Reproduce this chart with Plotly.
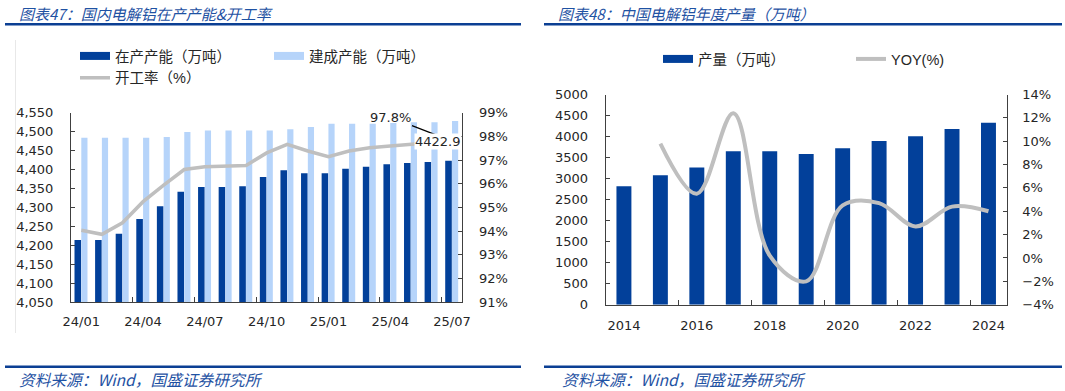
import plotly.graph_objects as go

# ---------------- data ----------------
months = ["24/01", "24/02", "24/03", "24/04", "24/05", "24/06", "24/07", "24/08", "24/09",
          "24/10", "24/11", "24/12", "25/01", "25/02", "25/03", "25/04", "25/05", "25/06", "25/07"]
running_capacity = [4214, 4214, 4230, 4269, 4303, 4341, 4354, 4354, 4356, 4380,
                    4398, 4390, 4390, 4402, 4407, 4414, 4417, 4420, 4422.9]
built_capacity = [4484, 4484, 4484, 4484, 4486, 4499, 4503, 4503, 4503, 4503,
                  4506, 4512, 4521, 4521, 4521, 4523, 4525, 4525, 4528]
utilization = [94.03, 93.86, 94.35, 95.24, 95.94, 96.60, 96.72, 96.75, 96.77, 97.30,
               97.66, 97.38, 97.14, 97.38, 97.52, 97.59, 97.66, 97.75, 97.8]

years = [2014, 2015, 2016, 2017, 2018, 2019, 2020, 2021, 2022, 2023, 2024]
output = [2820, 3081, 3262, 3649, 3649, 3586, 3720, 3894, 4005, 4179, 4329]
yoy_years = [2015, 2016, 2017, 2018, 2019, 2020, 2021, 2022, 2023, 2024]
yoy = [9.8, 5.5, 12.4, 0.2, -2.0, 4.5, 4.7, 2.7, 4.4, 4.0]

title_left = "图表47：国内电解铝在产产能&开工率"
title_right = "图表48：中国电解铝年度产量（万吨）"
source_text = "资料来源：Wind，国盛证券研究所"

# ---------------- style ----------------
W, H = 1065, 391
DARK = "#02409A"
LIGHT = "#B6D4FA"
GRAY = "#BFBFBF"
AXIS = "#404040"
TXT = "#262626"
BLUE_TXT = "#1F52A3"
RULE = "#0B3F93"
TICKFONT = dict(family="DejaVu Sans, Verdana", size=13, color=TXT)
LEGFONT = dict(family="Liberation Sans, Noto Sans CJK SC", size=14.5, color=TXT)
CJK = "Noto Sans CJK SC"


def px(xp):
    return xp / W


def py(yp):
    return 1 - yp / H


idx = list(range(len(months)))

fig = go.Figure()

# ---------- left chart ----------
fig.add_trace(go.Bar(x=idx, y=running_capacity, name="在产产能（万吨）", marker_color=DARK,
                     marker_line_width=0, width=0.32, offset=-0.33, xaxis="x", yaxis="y",
                     showlegend=False))
fig.add_trace(go.Bar(x=idx, y=built_capacity, name="建成产能（万吨）", marker_color=LIGHT,
                     marker_line_width=0, width=0.30, offset=0.0, xaxis="x", yaxis="y",
                     showlegend=False))
fig.add_trace(go.Scatter(x=idx, y=utilization, name="开工率（%）", mode="lines",
                         line=dict(color=GRAY, width=3.5), xaxis="x", yaxis="y2",
                         legend="legend", legendgroup="g1", legendrank=2))
# legend proxies (wide flat swatches like the original)
fig.add_trace(go.Scatter(x=[None], y=[None], name="在产产能（万吨）", mode="lines",
                         line=dict(color=DARK, width=8), xaxis="x", yaxis="y",
                         legend="legend", legendgroup="g1", legendrank=1))
fig.add_trace(go.Scatter(x=[None], y=[None], name="建成产能（万吨）", mode="lines",
                         line=dict(color=LIGHT, width=8), xaxis="x", yaxis="y",
                         legend="legend", legendgroup="g2", legendrank=3))

# ---------- right chart ----------
fig.add_trace(go.Bar(x=years, y=output, name="产量（万吨）", marker_color=DARK,
                     marker_line_width=0, width=0.41, xaxis="x2", yaxis="y3",
                     showlegend=False))
fig.add_trace(go.Scatter(x=[None], y=[None], name="产量（万吨）", mode="lines",
                         line=dict(color=DARK, width=8), xaxis="x2", yaxis="y3",
                         legend="legend2", legendrank=1))
fig.add_trace(go.Scatter(x=yoy_years, y=yoy, name="YOY(%)", mode="lines",
                         line=dict(color=GRAY, width=4, shape="spline", smoothing=1.0),
                         xaxis="x2", yaxis="y4", legend="legend2", legendrank=2))

axis_common = dict(showgrid=False, zeroline=False, showline=True, linecolor=AXIS,
                   linewidth=1, tickfont=TICKFONT, tickcolor=AXIS, automargin=False)

fig.update_layout(
    width=W, height=H,
    margin=dict(l=0, r=0, t=0, b=0, pad=0, autoexpand=False),
    paper_bgcolor="white", plot_bgcolor="white",
    barmode="overlay",
    hovermode=False,
    xaxis=dict(domain=[px(71), px(462.3)], range=[-0.5, len(months) - 0.5], anchor="y",
               tickmode="array", tickvals=idx[::3], ticktext=months[::3], ticks="",
               ticklabelstandoff=7,
               minor=dict(tickmode="array", tickvals=[i - 0.5 for i in idx[3::3]],
                          ticks="inside", ticklen=5, tickcolor=AXIS),
               **axis_common),
    yaxis=dict(domain=[py(302), py(112.7)], range=[4050, 4550], tick0=4050, dtick=50,
               tickformat=",", ticks="inside", ticklen=4, anchor="x",
               ticklabelstandoff=14, **axis_common),
    yaxis2=dict(overlaying="y", side="right", range=[91, 99], tick0=91, dtick=1,
                ticksuffix="%", ticks="inside", ticklen=4, anchor="x",
                ticklabelstandoff=13, **axis_common),
    xaxis2=dict(domain=[px(605.7), px(1006.7)], range=[years[0] - 0.5, years[-1] + 0.5],
                anchor="y3", tickmode="array", tickvals=years[::2], ticks="",
                ticklabelstandoff=9,
                minor=dict(tickmode="array", tickvals=[y - 0.5 for y in years[2::2]],
                           ticks="inside", ticklen=5, tickcolor=AXIS),
                **axis_common),
    yaxis3=dict(domain=[py(304.7), py(94.5)], range=[0, 5000], tick0=0, dtick=500,
                ticks="inside", ticklen=4, anchor="x2", ticklabelstandoff=14,
                **axis_common),
    yaxis4=dict(overlaying="y3", side="right", range=[-4, 14], tick0=-4, dtick=2,
                ticksuffix="%", ticks="inside", ticklen=4, anchor="x2",
                ticklabelstandoff=12, **axis_common),
    legend=dict(x=px(75), y=py(40), xanchor="left", yanchor="top", orientation="h",
                traceorder="grouped", entrywidth=149, font=LEGFONT,
                bgcolor="rgba(0,0,0,0)"),
    legend2=dict(x=px(658), y=py(43), xanchor="left", yanchor="top", orientation="h",
                 entrywidth=148, font=LEGFONT, bgcolor="rgba(0,0,0,0)"),
    showlegend=True,
)

# data labels on the left chart
fig.add_annotation(x=idx[-1], y=utilization[-1], xref="x", yref="y2",
                   text=f"{utilization[-1]:.1f}%", showarrow=True, arrowhead=0,
                   arrowwidth=1.2, arrowcolor="#000000", ax=-62, ay=-24,
                   font=dict(family="DejaVu Sans, Verdana", size=13, color=TXT))
fig.add_annotation(x=idx[-1], y=running_capacity[-1], xref="x", yref="y",
                   text=f"{running_capacity[-1]:.1f}", showarrow=False,
                   xshift=-14, yshift=19, bgcolor="white", borderpad=0,
                   font=dict(family="DejaVu Sans, Verdana", size=13, color=TXT))

# titles and sources
for xt, t in [(17, title_left), (556, title_right)]:
    fig.add_annotation(x=px(xt), y=py(13), xref="paper", yref="paper", xanchor="left",
                       yanchor="middle", showarrow=False, text=f"<i>{t}</i>",
                       font=dict(family=CJK, size=15, color=BLUE_TXT))
for xt in [17, 560]:
    fig.add_annotation(x=px(xt), y=py(379), xref="paper", yref="paper", xanchor="left",
                       yanchor="middle", showarrow=False, text=f"<i>{source_text}</i>",
                       font=dict(family=CJK, size=15.7, color=BLUE_TXT))

# rules under titles and above sources
for yy in [24.3, 366.7]:
    for x0, x1 in [(5, 521), (544, 1062)]:
        fig.add_shape(type="line", xref="paper", yref="paper", x0=px(x0), x1=px(x1),
                      y0=py(yy), y1=py(yy), line=dict(color=RULE, width=2.5))
# faint chart-area border on the left chart
fig.add_shape(type="line", xref="paper", yref="paper", x0=px(15.5), x1=px(15.5),
              y0=py(40), y1=py(333), line=dict(color="#E8E8E8", width=1))

# remove the browser's default 8px body margin so the figure sits at the window origin
fig.write_html("out.html", config={"displayModeBar": False},
               post_script="document.body.style.margin='0';")
